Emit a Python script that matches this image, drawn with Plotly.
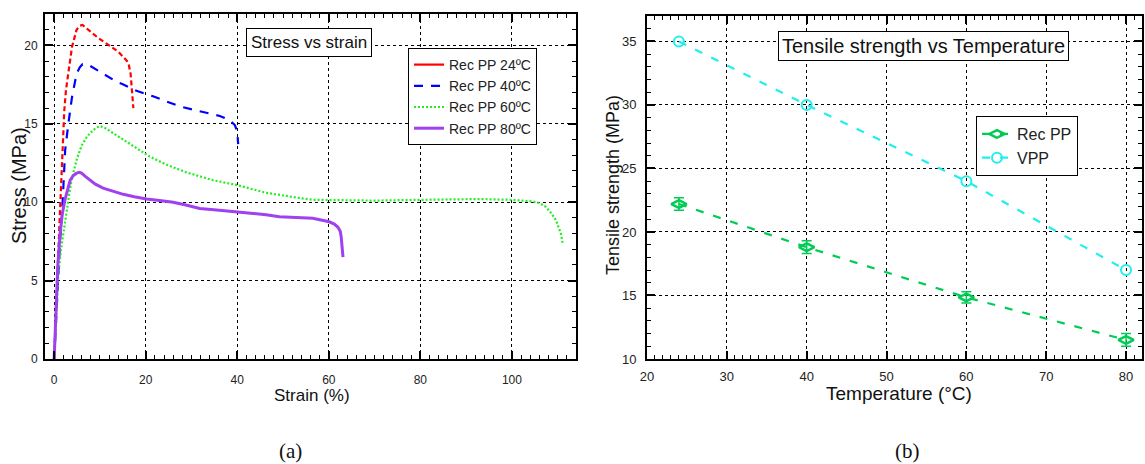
import plotly.graph_objects as go

# ---------------- data: (a) stress vs strain ----------------
strain_24 = [0, 0.3, 0.6, 0.9, 1.2, 1.7, 2.2, 2.6, 3.1, 3.9, 4.9, 5.6, 6.2, 7.0, 8.0, 9.5, 11.0, 12.5, 14.0, 15.3, 16.2, 16.7, 17.0, 17.3]
stress_24 = [0, 2.4, 4.8, 6.8, 8.9, 12.3, 15.8, 17.2, 18.2, 19.9, 21.0, 21.25, 21.3, 21.1, 20.9, 20.5, 20.2, 19.9, 19.6, 19.2, 18.9, 18.2, 17.2, 16.0]

strain_40 = [0, 0.5, 0.95, 1.3, 1.7, 2.1, 2.4, 3.1, 3.9, 4.9, 5.6, 6.2, 7.0, 7.8, 9.5, 11.5, 13.5, 15.1, 18.0, 21.6, 25.0, 27.5, 31.8, 36.2, 38.5, 39.5, 40.0, 40.2]
stress_40 = [0, 3.0, 5.9, 7.6, 9.1, 11.5, 13.3, 15.0, 16.7, 18.2, 18.6, 18.8, 18.8, 18.7, 18.4, 18.0, 17.7, 17.5, 17.1, 16.75, 16.4, 16.1, 15.8, 15.5, 15.2, 14.9, 14.5, 13.7]

strain_60 = [0, 0.4, 0.94, 1.5, 2.0, 2.6, 3.1, 3.6, 4.2, 5.0, 6.0, 7.0, 7.8, 9.0, 10.0, 11.0, 12.9, 15.0, 17.3, 20.9, 24.5, 28.9, 34.7, 39.8, 46.3, 49.2, 53.5, 56.5, 63.8, 70.0, 80.0, 92.9, 100.1, 104.5, 106.0, 107.4, 108.6, 109.6, 110.7, 111.1]
stress_60 = [0, 2.8, 5.5, 7.0, 8.0, 9.3, 10.2, 11.1, 11.9, 12.8, 13.6, 14.1, 14.4, 14.7, 14.85, 14.75, 14.4, 14.0, 13.6, 12.9, 12.4, 11.9, 11.4, 11.1, 10.6, 10.45, 10.27, 10.15, 10.1, 10.1, 10.15, 10.2, 10.15, 10.05, 9.95, 9.7, 9.3, 8.86, 8.0, 7.35]

strain_80 = [0, 0.2, 0.44, 0.8, 1.3, 1.8, 2.4, 3.0, 3.5, 4.2, 4.9, 5.5, 6.0, 6.8, 7.8, 9.0, 10.7, 12.8, 15.1, 17.5, 20.2, 23.0, 26.0, 29.0, 31.8, 35.5, 39.1, 42.7, 46.3, 49.2, 53.5, 56.5, 60.1, 61.2, 62.0, 62.5, 62.7, 63.0, 63.1]
stress_80 = [0, 1.8, 3.8, 6.0, 8.0, 9.3, 10.2, 10.9, 11.4, 11.7, 11.85, 11.9, 11.85, 11.65, 11.4, 11.15, 10.9, 10.7, 10.5, 10.35, 10.2, 10.1, 10.0, 9.8, 9.6, 9.5, 9.4, 9.3, 9.2, 9.07, 9.0, 8.97, 8.75, 8.6, 8.4, 8.15, 7.8, 7.0, 6.5]

# ---------------- data: (b) tensile strength vs temperature ----------------
temperature = [24, 40, 60, 80]
rec_pp = [22.2, 18.8, 14.85, 11.5]
rec_pp_err = [0.5, 0.5, 0.45, 0.5]
vpp = [35, 30, 24, 17]

W, H = 1145, 464
def px(x): return x / W
def py(y): return 1 - y / H

SANS = "Liberation Sans, Arial, sans-serif"

fig = go.Figure()

# (data, name, colour, dash in plot, dash in legend, width)
left_series = [
    (strain_24, stress_24, "Rec PP 24ºC", "#FF0000", "5px,3px", "solid", 2.2),
    (strain_40, stress_40, "Rec PP 40ºC", "#0000FF", "9px,8px", "9px,8px", 2.2),
    (strain_60, stress_60, "Rec PP 60ºC", "#22EE22", "2px,2px", "2px,2px", 2.2),
    (strain_80, stress_80, "Rec PP 80ºC", "#A040F0", "solid", "solid", 3),
]
for xs, ys, name, col, dash, ldash, w in left_series:
    fig.add_trace(go.Scatter(x=xs, y=ys, mode="lines", name=name, showlegend=False,
                             line=dict(color=col, dash=dash, width=w),
                             xaxis="x", yaxis="y"))
for xs, ys, name, col, dash, ldash, w in left_series:
    # legend entry (no data points of its own)
    fig.add_trace(go.Scatter(x=[None], y=[None], mode="lines", name=name,
                             line=dict(color=col, dash=ldash, width=w),
                             xaxis="x", yaxis="y", legend="legend"))

fig.add_trace(go.Scatter(x=temperature, y=rec_pp, mode="lines+markers", name="Rec PP",
                         line=dict(color="#00CC55", dash="8px,10px", width=2.2),
                         marker=dict(symbol="diamond-wide-open", size=11, color="#00CC55", line=dict(width=2.5)),
                         error_y=dict(type="data", array=rec_pp_err, color="#00CC55", thickness=1.5, width=5),
                         xaxis="x2", yaxis="y2", legend="legend2"))
fig.add_trace(go.Scatter(x=temperature, y=vpp, mode="lines+markers", name="VPP",
                         line=dict(color="#22EEEE", dash="8px,10px", width=2.2),
                         marker=dict(symbol="circle-open", size=10, color="#22EEEE", line=dict(width=2)),
                         xaxis="x2", yaxis="y2", legend="legend2"))

def axis(domain, rng, dtick, minor, anchor, fs, standoff):
    return dict(domain=domain, range=rng, dtick=dtick, tick0=0, anchor=anchor,
                automargin=False,
                showline=True, linecolor="black", linewidth=2, mirror="allticks",
                ticks="inside", ticklen=8, tickwidth=1.5, tickcolor="black",
                minor=dict(dtick=minor, ticks="inside", ticklen=4, tickcolor="black", tickwidth=1, showgrid=False),
                showgrid=True, gridcolor="black", griddash="dot", gridwidth=1,
                zeroline=False, tickfont=dict(family=SANS, size=fs, color="#222"),
                ticklabelstandoff=standoff)

fig.update_layout(
    width=W, height=H, margin=dict(l=0, r=0, t=0, b=0, autoexpand=False),
    paper_bgcolor="white", plot_bgcolor="white",
    xaxis=axis([px(45), px(576)], [-2, 114], 20, 2, "y", 12, 9),
    yaxis=axis([py(359), py(14)], [0, 22], 5, 1, "x", 12, 3),
    xaxis2=axis([px(647), px(1142)], [20, 82], 10, 1, "y2", 13, 4),
    yaxis2=axis([py(359), py(16)], [10, 37], 5, 1, "x2", 13, 6),
    legend=dict(x=px(408), y=py(48), xanchor="left", yanchor="top",
                bordercolor="black", borderwidth=1, bgcolor="white",
                font=dict(family=SANS, size=14, color="#222"), itemwidth=30,
                tracegroupgap=0),
    legend2=dict(x=px(976), y=py(116), xanchor="left", yanchor="top",
                 bordercolor="black", borderwidth=1, bgcolor="white",
                 font=dict(family=SANS, size=16, color="#222"), itemwidth=30),
)

annotations = [
    dict(text="Stress vs strain", x=px(309), y=py(42), font=dict(size=17),
         bordercolor="black", borderwidth=1, bgcolor="white", borderpad=4),
    dict(text="Tensile strength vs Temperature", x=px(923), y=py(46), font=dict(size=20),
         bordercolor="black", borderwidth=1, bgcolor="white", borderpad=3),
    dict(text="Strain (%)", x=px(312), y=py(395), font=dict(size=17)),
    dict(text="Temperature (°C)", x=px(899), y=py(393), font=dict(size=19)),
    dict(text="Stress (MPa)", x=px(19), y=py(186), font=dict(size=20), textangle=-90),
    dict(text="Tensile strength (MPa)", x=px(613), y=py(185), font=dict(size=18), textangle=-90),
    dict(text="(a)", x=px(290), y=py(451), font=dict(size=21, family="Liberation Serif, DejaVu Serif, serif")),
    dict(text="(b)", x=px(907), y=py(451), font=dict(size=21, family="Liberation Serif, DejaVu Serif, serif")),
]
for a in annotations:
    a.setdefault("xref", "paper")
    a.setdefault("yref", "paper")
    a.setdefault("xanchor", "center")
    a.setdefault("yanchor", "middle")
    a.setdefault("showarrow", False)
    a["font"].setdefault("family", SANS)
    a["font"].setdefault("color", "#111")
    fig.add_annotation(**a)

fig.write_html("out.html", config={"displayModeBar": False},
               post_script="document.body.style.margin='0';document.body.style.overflow='hidden';")
